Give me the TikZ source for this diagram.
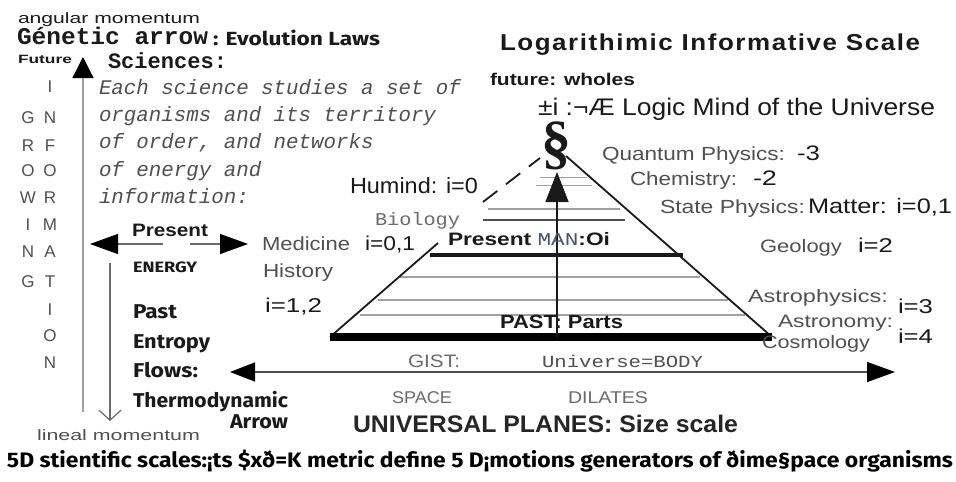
\documentclass[tikz,border=0pt]{standalone}
\usepackage{fontspec}
\usepackage{graphicx}
\setmainfont{Liberation Sans}
\newfontfamily\mono{Liberation Mono}
\newfontfamily\fira{Fira Sans}
\newfontfamily\serifb{Liberation Serif}
\newfontfamily\spaced[LetterSpace=6]{Liberation Sans}
\usetikzlibrary{arrows.meta}
\newcommand{\fw}[2]{\resizebox{#1}{\height}{#2}}
\newcommand{\fs}[1]{\fontsize{#1}{#1}\selectfont}
\definecolor{ink}{HTML}{1A1A1A}
\definecolor{gA}{HTML}{505050}
\definecolor{gB}{HTML}{6A6A6A}
\definecolor{gL}{HTML}{A0A0A0}
\definecolor{slate}{HTML}{4A5565}
\begin{document}
\begin{tikzpicture}[x=1pt,y=-1pt,
  t/.style={anchor=base west,inner sep=0pt,outer sep=0pt,text=ink},
  vl/.style={anchor=center,inner sep=0pt,font=\fs{17},text=gA},
  grayt/.style={t,text=gA},
  edge/.style={line width=1.8pt,draw=ink},
  inner/.style={line width=1.1pt,draw=gL},
  bigtip/.style={-{Triangle[length=#1pt,width=20pt,color=black]}}
]
\fill[white] (0,0) rectangle (956,482);
\useasboundingbox (0,0) rectangle (956,482);

% ---------- pyramid ----------
\coordinate (bl) at (330,337);
\coordinate (br) at (772,337);
\coordinate (lsEnd) at (438,243);
\coordinate (dashA) at (483,202);
\coordinate (dashB) at (540,158);
\coordinate (rTop) at (566,156);
\draw[inner,line width=0.8pt] (540,177) -- (587,177);
\draw[inner,line width=0.8pt] (536,185) -- (592,185);
\draw[inner] (488,209) -- (620,209);
\draw[line width=2pt,draw=gA] (483,220) -- (625,220);
\draw[line width=3.5pt,draw=ink] (430,255) -- (683,255);
\draw[inner] (400,277) -- (700,277);
\draw[inner] (378,300) -- (728,300);
\draw[inner] (360,315) -- (745,315);
\draw[edge] (bl) -- (lsEnd);
\draw[edge,dash pattern=on 18pt off 11pt] (dashA) -- (dashB);
\draw[edge] (rTop) -- (br);
\draw[line width=8pt,draw=black] (bl) -- (br);
\coordinate (vbase) at (557,337);
\coordinate (vtip) at (557,172);
\draw[line width=1.6pt,draw=ink,-{Triangle[length=30pt,width=23pt]}] (vbase) -- (vtip);
\node[anchor=center,inner sep=0pt,font=\serifb\bfseries\fs{60},text=ink] (sect) at (556,146) {§};

% ---------- bottom horizontal arrow ----------
\coordinate (hl) at (230,372);
\coordinate (hr) at (895,372);
\draw[line width=1.5pt,draw=gA,{Triangle[length=25pt,width=19pt,color=black]}-{Triangle[length=28pt,width=20pt,color=black]}] (hl) -- (hr);

% ---------- left arrows ----------
\coordinate (ftail) at (83,412);
\coordinate (ftip) at (83,57);
\draw[line width=1.2pt,draw=gL,-{Triangle[length=21pt,width=21pt,color=black]}] (ftail) -- (ftip);
\coordinate (pm1) at (163,244);
\coordinate (pm2) at (190,244);
\coordinate (pl) at (90,244);
\coordinate (pr) at (248,244);
\draw[line width=1.2pt,draw=gB,bigtip=28] (pm1) -- (pl);
\draw[line width=1.2pt,draw=gB,bigtip=28] (pm2) -- (pr);
\coordinate (dtop) at (110,263);
\coordinate (dbot) at (110,421);
\draw[line width=1.2pt,draw=gB,-{Straight Barb[length=10pt,width=22pt]}] (dtop) -- (dbot);

% ---------- left texts ----------
\node[t,font=\fs{15}] (angm) at (18,23) {\fw{182pt}{angular momentum}};
\node[t,font=\mono\bfseries\fs{24}] (gen) at (17,44) {\fw{191pt}{Génetic arrow}};
\node[t,font=\fira\bfseries\fs{19}] (evo) at (213,45) {\fw{167pt}{: Evolution Laws}};
\node[t,font=\bfseries\fs{12}] (fut) at (18,63) {\fw{54pt}{Future}};
\node[t,font=\mono\bfseries\fs{22}] (sci) at (108,68) {\fw{119pt}{Sciences:}};
\node[grayt,font=\mono\itshape\fs{20.8}] (p1) at (99,94) {Each science studies a set of};
\node[grayt,font=\mono\itshape\fs{20.8}] (p2) at (99,121) {organisms and its territory};
\node[grayt,font=\mono\itshape\fs{20.8}] (p3) at (99,148) {of order, and networks};
\node[grayt,font=\mono\itshape\fs{20.8}] (p4) at (99,176) {of energy and};
\node[grayt,font=\mono\itshape\fs{20.8}] (p5) at (99,203) {information:};
\foreach \ch/\yy [count=\k] in {I/87,N/118,F/146,O/171,R/198,M/225,A/252,T/282,I/310,O/336,N/363}
  \node[vl] (inf\k) at (50,\yy) {\ch};
\foreach \ch/\yy [count=\k] in {G/118,R/146,O/171,W/198,I/225,N/252,G/282}
  \node[vl] (grw\k) at (28,\yy) {\ch};
\node[t,font=\bfseries\fs{18}] (pres) at (132,236) {\fw{76pt}{Present}};
\node[t,font=\fira\bfseries\fs{15}] (energy) at (133,272) {\fw{64pt}{ENERGY}};
\node[t,font=\fira\bfseries\fs{20}] (past) at (133,318) {\fw{44pt}{Past}};
\node[t,font=\fira\bfseries\fs{20}] (entr) at (133,348) {\fw{77pt}{Entropy}};
\node[t,font=\fira\bfseries\fs{20}] (flows) at (133,377) {\fw{65pt}{Flows:}};
\node[t,font=\fira\bfseries\fs{20}] (thermo) at (133,407) {\fw{155pt}{Thermodynamic}};
\node[t,font=\fira\bfseries\fs{20}] (arrw) at (230,428) {\fw{58pt}{Arrow}};
\node[grayt,font=\fs{15}] (linm) at (37,440) {\fw{163pt}{lineal momentum}};

% ---------- right texts ----------
\node[t,font=\spaced\bfseries\fs{23}] (logs) at (500,50) {\fw{420pt}{Logarithimic Informative Scale}};
\node[t,font=\bfseries\fs{17}] (fwh) at (490,85) {\fw{145pt}{future: wholes}};
\node[t,font=\fs{24}] (mind) at (538,115) {\fw{397pt}{±i :¬Æ Logic Mind of the Universe}};
\node[grayt,font=\fs{19}] (qp) at (602,160) {\fw{183pt}{Quantum Physics:}};
\node[t,font=\fs{21}] (qpn) at (797,160) {\fw{23pt}{-3}};
\node[grayt,font=\fs{19}] (chem) at (630,185) {\fw{107pt}{Chemistry:}};
\node[t,font=\fs{21}] (chemn) at (753,185) {\fw{24pt}{-2}};
\node[grayt,font=\fs{19}] (stp) at (660,213) {\fw{145pt}{State Physics:}};
\node[t,font=\fs{21}] (mat) at (808,213) {\fw{144pt}{Matter: i=0,1}};
\node[grayt,font=\fs{18}] (geo) at (760,252) {\fw{82pt}{Geology}};
\node[t,font=\fs{20}] (geon) at (858,252) {\fw{35pt}{i=2}};
\node[grayt,font=\fs{18}] (astp) at (748,302) {\fw{140pt}{Astrophysics:}};
\node[t,font=\fs{20}] (astpn) at (898,313) {\fw{35pt}{i=3}};
\node[grayt,font=\fs{18}] (astr) at (778,327) {\fw{115pt}{Astronomy:}};
\node[t,font=\fs{20}] (astrn) at (898,343) {\fw{35pt}{i=4}};
\node[grayt,font=\fs{18}] (cosm) at (762,348) {\fw{108pt}{Cosmology}};

% ---------- pyramid labels ----------
\node[t,font=\fs{22}] (hum) at (350,193) {\fw{128pt}{Humind: i=0}};
\node[t,text=gB,font=\mono\fs{18}] (bio) at (375,225) {\fw{85pt}{Biology}};
\node[grayt,font=\fs{19}] (med) at (262,250) {\fw{88pt}{Medicine}};
\node[t,font=\fs{20}] (medn) at (365,250) {\fw{50pt}{i=0,1}};
\node[grayt,font=\fs{19}] (hist) at (263,277) {\fw{70pt}{History}};
\node[t,font=\fs{20}] (histn) at (265,312) {\fw{57pt}{i=1,2}};
\node[t,font=\bfseries\fs{18}] (man) at (448,245) {\fw{162pt}{Present {\mono\mdseries\color{slate}MAN}:Oi}};
\node[t,font=\bfseries\fs{19}] (pst) at (500,328) {\fw{123pt}{PAST: Parts}};
\node[t,text=gB,font=\fs{18}] (gist) at (408,367) {\fw{52pt}{GIST:}};
\node[grayt,font=\mono\fs{17}] (ubody) at (542,367) {\fw{161pt}{Universe=BODY}};
\node[t,text=gB,font=\fs{17}] (space) at (392,403) {\fw{60pt}{SPACE}};
\node[t,text=gB,font=\fs{17}] (dil) at (568,403) {\fw{80pt}{DILATES}};
\node[t,text=black!85,font=\bfseries\fs{24}] (up) at (353,432) {\fw{385pt}{UNIVERSAL PLANES: Size scale}};
\node[t,text=black,font=\fira\bfseries\fs{21}] (foot) at (7,467) {\fw{946pt}{5D stientific scales:¡ts \$xð=K metric define 5 D¡motions generators of ðime§pace organisms}};
\end{tikzpicture}
\end{document}
